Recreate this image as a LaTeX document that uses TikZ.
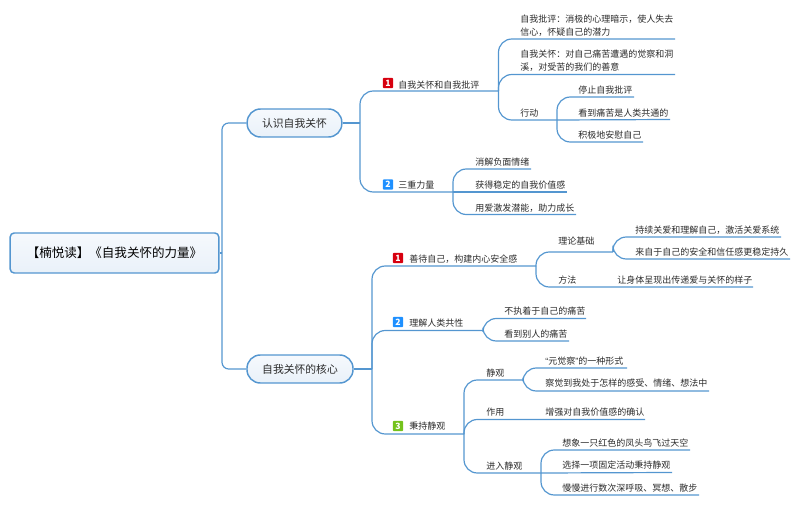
\documentclass[tikz,border=0pt]{standalone}
\usepackage{fontspec}
\setmainfont{Noto Sans CJK SC}
\newfontfamily\quotefont{Liberation Sans}
\definecolor{linkblue}{HTML}{5496D0}
\definecolor{paleblue}{HTML}{E9F1F9}
\definecolor{topblue}{HTML}{F6F9FD}
\definecolor{inkgrey}{HTML}{2B2B2B}
\definecolor{numred}{HTML}{D7000F}
\definecolor{numblue}{HTML}{1E90FF}
\definecolor{numgreen}{HTML}{74C21C}
\tikzset{
	txt/.style={anchor=west,inner sep=0pt,text=inkgrey,align=left,font=\fontsize{6.75}{9.6}\selectfont},
	link/.style={draw=linkblue,line width=0.9pt},
	branch/.style={link,rounded corners=10pt},
	pill/.style={draw=linkblue,line width=1.1pt,top color=topblue,bottom color=paleblue,rounded corners=10pt,minimum height=21pt,inner sep=0pt,text=inkgrey,font=\fontsize{8.1}{10}\selectfont},
	badge/.style={rounded corners=0.8pt,minimum size=7.8pt,inner sep=0pt,text=white,font=\fontsize{6.5}{7}\selectfont\bfseries},
}
\begin{document}
\begin{tikzpicture}[x=0.75pt,y=-0.75pt]
\useasboundingbox (0,0) rectangle (800,506);

% centre and main topics
\node[draw=linkblue,line width=1.1pt,top color=topblue,bottom color=paleblue,rounded corners=3pt,minimum width=156.5pt,minimum height=30pt,inner sep=0pt,text=black,font=\fontsize{9.4}{11}\selectfont] (root) at (114.5,253) {【楠悦读】《自我关怀的力量》};
\node[pill,minimum width=71pt] (know) at (294.5,123) {认识自我关怀};
\node[pill,minimum width=79.5pt] (core) at (300,369) {自我关怀的核心};

\coordinate (hroot) at (222,253);
\draw[link] (root.east) -- (hroot);
\draw[link,rounded corners=5pt] (hroot) |- (know.west);
\draw[link,rounded corners=5pt] (hroot) |- (core.west);

% first main topic
\coordinate (hknow) at (360,123);
\coordinate (hcore) at (372,369);
\draw[link] (know.east) -- (hknow);
\draw[link] (core.east) -- (hcore);

\node[badge,fill=numred] (num1) at (388,83) {1};
\node[txt] (care) at (398,85) {自我关怀和自我批评};
\coordinate (hcare) at (498.5,91);
\draw[branch] (hknow) |- (hcare);

\node[badge,fill=numblue] (num2) at (388,184.5) {2};
\node[txt] (power) at (398,185) {三重力量};
\coordinate (hpower) at (453,192);
\draw[branch] (hknow) |- (hpower);

\node[txt] (crit) at (520,26) {自我批评：消极的心理暗示，使人失去\\信心，怀疑自己的潜力};
\coordinate (ecrit) at (675,39);
\draw[branch] (hcare) |- (ecrit);

\node[txt] (kind) at (520,60.5) {自我关怀：对自己痛苦遭遇的觉察和洞\\溪，对受苦的我们的善意};
\coordinate (ekind) at (675,74.5);
\draw[branch] (hcare) |- (ekind);

\node[txt] (act) at (520,113) {行动};
\coordinate (hact) at (557,120);
\draw[branch] (hcare) |- (hact);

\node[txt] (act1) at (578,90) {停止自我批评};
\coordinate (eact1) at (634,97);
\draw[branch] (hact) |- (eact1);
\node[txt] (act2) at (578,113) {看到痛苦是人类共通的};
\coordinate (eact2) at (670,119.5);
\draw[link] (hact) -- (eact2);
\node[txt] (act3) at (578,135) {积极地安慰自己};
\coordinate (eact3) at (643,142);
\draw[branch] (hact) |- (eact3);

\node[txt] (pow1) at (475,162) {消解负面情绪};
\coordinate (epow1) at (531,169);
\draw[branch] (hpower) |- (epow1);
\node[txt] (pow2) at (475,185) {获得稳定的自我价值感};
\coordinate (epow2) at (567,192);
\draw[link] (hpower) -- (epow2);
\node[txt] (pow3) at (475,208) {用爱激发潜能，助力成长};
\coordinate (epow3) at (576,214.5);
\draw[branch] (hpower) |- (epow3);

% second main topic
\node[badge,fill=numred] (num3) at (398,258) {1};
\node[txt] (safe) at (409,259.5) {善待自己，构建内心安全感};
\coordinate (hsafe) at (536,266);
\draw[branch] (hcore) |- (hsafe);

\node[badge,fill=numblue] (num4) at (398,322) {2};
\node[txt] (share) at (409,323) {理解人类共性};
\coordinate (hshare) at (483,330.5);
\draw[branch] (hcore) |- (hshare);

\node[badge,fill=numgreen] (num5) at (398,426) {3};
\node[txt] (still) at (409,426) {秉持静观};
\coordinate (hstill) at (464,434);
\draw[branch] (hcore) |- (hstill);

\node[txt] (base) at (558,241) {理论基础};
\coordinate (hbase) at (613,252);
\draw[branch] (hsafe) |- (hbase);
\node[txt] (base1) at (635,230) {持续关爱和理解自己，激活关爱系统};
\coordinate (ebase1) at (781,237);
\draw[branch] (hbase) |- (ebase1);
\node[txt] (base2) at (635,252) {来自于自己的安全和信任感更稳定持久};
\coordinate (ebase2) at (790,259);
\draw[branch] (hbase) |- (ebase2);

\node[txt] (way) at (558,280) {方法};
\node[txt] (way1) at (617,280) {让身体呈现出传递爱与关怀的样子};
\coordinate (eway1) at (753,287);
\draw[branch] (hsafe) |- (eway1);

\node[txt] (share1) at (504,311) {不执着于自己的痛苦};
\coordinate (eshare1) at (586,318.5);
\draw[branch] (hshare) |- (eshare1);
\node[txt] (share2) at (504,334) {看到别人的痛苦};
\coordinate (eshare2) at (569,341);
\draw[branch] (hshare) |- (eshare2);

\node[txt] (view) at (486,373) {静观};
\coordinate (hview) at (523,380);
\draw[branch] (hstill) |- (hview);
\node[txt] (view1) at (545,361) {{\quotefont “}元觉察{\quotefont ”}的一种形式};
\coordinate (eview1) at (627,368);
\draw[branch] (hview) |- (eview1);
\node[txt] (view2) at (545,383) {察觉到我处于怎样的感受、情绪、想法中};
\coordinate (eview2) at (709,391);
\draw[branch] (hview) |- (eview2);

\node[txt] (use) at (486,412) {作用};
\node[txt] (use1) at (545,412) {增强对自我价值感的确认};
\coordinate (euse1) at (645,419.5);
\draw[branch] (hstill) |- (euse1);

\node[txt] (enter) at (486,466) {进入静观};
\coordinate (henter) at (541,473);
\draw[branch] (hstill) |- (henter);
\node[txt] (enter1) at (562,443) {想象一只红色的凤头鸟飞过天空};
\coordinate (eenter1) at (690,450);
\draw[branch] (henter) |- (eenter1);
\node[txt] (enter2) at (562,465) {选择一项固定活动秉持静观};
\coordinate (eenter2) at (672,472.5);
\draw[link] (henter) -- (eenter2);
\node[txt] (enter3) at (562,488) {慢慢进行数次深呼吸、冥想、散步};
\coordinate (eenter3) at (699,495);
\draw[branch] (henter) |- (eenter3);

\end{tikzpicture}
\end{document}
